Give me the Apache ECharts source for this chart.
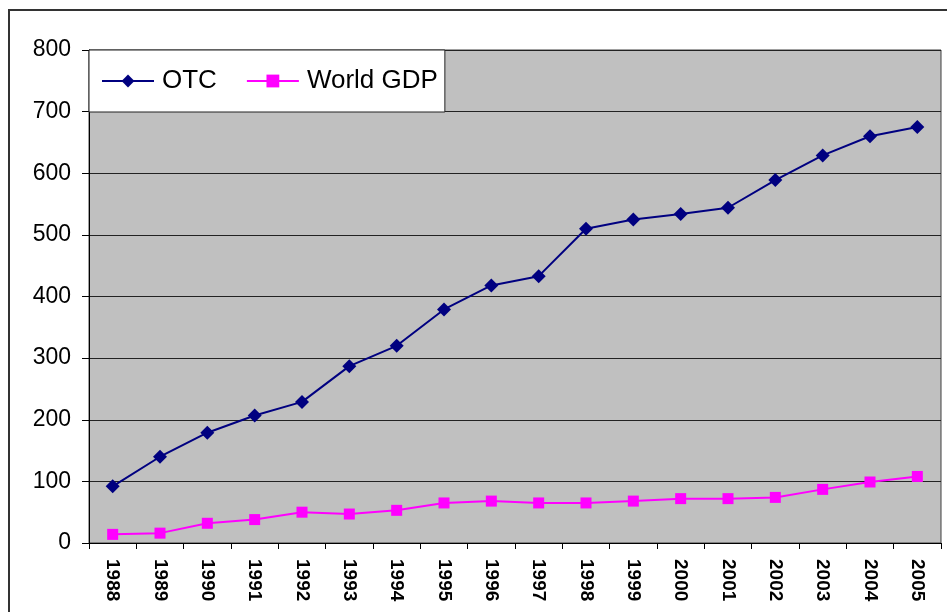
<!DOCTYPE html>
<html>
<head>
<meta charset="utf-8">
<script src="https://cdn.jsdelivr.net/npm/echarts@6/dist/echarts.min.js"></script>
<style>
  html, body { margin: 0; padding: 0; background: #fff; }
  #chart { width: 947px; height: 612px; }
</style>
</head>
<body>
<div id="chart"></div>
<script>
// years on the x axis
const years = ['1988', '1989', '1990', '1991', '1992', '1993', '1994', '1995', '1996',
  '1997', '1998', '1999', '2000', '2001', '2002', '2003', '2004', '2005']

// values
const otc = [92, 140, 179, 207, 229, 287, 320, 379, 418, 433, 510, 525, 534, 544, 589, 629, 660, 675]
const worldGdp = [14, 16, 32, 38, 50, 47, 53, 65, 68, 65, 65, 68, 72, 72, 74, 87, 99, 108]

const seriesNames = ['OTC', 'World GDP']
const seriesColors = ['#000080', '#FF00FF']

const font = "'Liberation Sans', Arial, sans-serif"

const chart = echarts.init(document.getElementById('chart'))

const option = {
  animation: false,
  backgroundColor: '#fff',
  textStyle: { fontFamily: font },
  graphic: [
    {
      type: 'rect',
      shape: { x: 9, y: 10, width: 1000, height: 700 },
      style: { fill: 'none', stroke: '#333', lineWidth: 2 },
      silent: true,
      z: -10
    }
  ],
  grid: {
    left: 89,
    top: 50,
    right: 6,
    bottom: 69,
    show: true,
    backgroundColor: '#C0C0C0',
    borderColor: '#404040',
    borderWidth: 1
  },
  legend: {
    data: seriesNames,
    left: 89,
    top: 50,
    orient: 'horizontal',
    backgroundColor: '#fff',
    borderColor: '#222',
    borderWidth: 1,
    borderRadius: 0,
    padding: [18, 7, 18, 12],
    itemGap: 29,
    itemWidth: 52,
    itemHeight: 16,
    textStyle: { fontSize: 26, color: '#000', fontFamily: font, padding: [0, 0, 0, 3] }
  },
  xAxis: {
    type: 'category',
    data: years,
    boundaryGap: true,
    axisLine: { lineStyle: { color: '#000', width: 1 } },
    axisTick: { show: true, interval: 0, length: 6, lineStyle: { color: '#000' } },
    axisLabel: {
      interval: 0,
      rotate: -90,
      margin: 16,
      fontSize: 19,
      fontWeight: 'bold',
      color: '#000',
      fontFamily: font
    },
    splitLine: { show: false }
  },
  yAxis: {
    type: 'value',
    min: 0,
    max: 800,
    interval: 100,
    axisLine: { show: true, lineStyle: { color: '#000' } },
    axisTick: { show: true, length: 7, lineStyle: { color: '#000' } },
    axisLabel: { fontSize: 23, color: '#000', margin: 18, fontFamily: font },
    splitLine: { show: true, lineStyle: { color: '#222', width: 1 } }
  },
  series: [
    {
      name: seriesNames[0],
      type: 'line',
      data: otc,
      symbol: 'diamond',
      symbolSize: 14,
      color: seriesColors[0],
      lineStyle: { color: seriesColors[0], width: 2 },
      itemStyle: { color: seriesColors[0] }
    },
    {
      name: seriesNames[1],
      type: 'line',
      data: worldGdp,
      symbol: 'rect',
      symbolSize: 11,
      color: seriesColors[1],
      lineStyle: { color: seriesColors[1], width: 2 },
      itemStyle: { color: seriesColors[1] }
    }
  ]
}

chart.setOption(option)
</script>
</body>
</html>
